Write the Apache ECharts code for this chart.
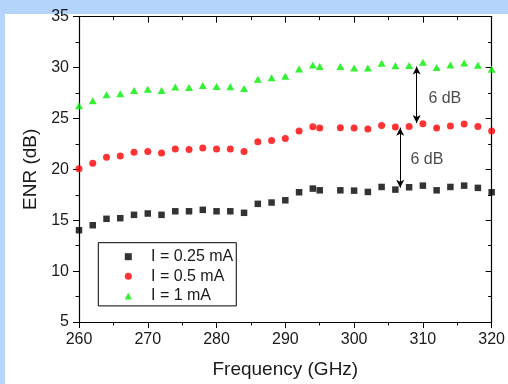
<!DOCTYPE html>
<html>
<head>
<meta charset="utf-8">
<script src="https://cdn.jsdelivr.net/npm/echarts@6/dist/echarts.min.js"></script>
<style>
  html, body { margin: 0; padding: 0; background: #b4d4fb; overflow: hidden; width: 508px; height: 384px; }
  #bg { position: absolute; left: 5px; top: 14px; right: 0; bottom: 0; background: #ffffff; }
  #chart { position: absolute; left: 0; top: 0; width: 508px; height: 384px; }
</style>
</head>
<body>
<div id="bg"></div>
<div id="chart"></div>
<script>
// ---- data ----
const freqs = [260,262,264,266,268,270,272,274,276,278,280,282,284,286,288,290,292,294,295,298,300,302,304,306,308,310,312,314,316,318,320];
const enr025 = [14.02,14.51,15.14,15.2,15.53,15.66,15.53,15.88,15.88,16.02,15.88,15.88,15.73,16.61,16.74,16.96,17.75,18.11,17.94,17.94,17.91,17.78,18.27,18.01,18.24,18.4,17.94,18.27,18.4,18.18,17.75];
const enr05 = [20.07,20.59,21.18,21.31,21.67,21.76,21.61,22.0,21.96,22.1,22.0,22.0,21.76,22.72,22.84,23.04,23.76,24.19,24.06,24.09,24.06,23.96,24.31,24.16,24.22,24.48,24.06,24.25,24.45,24.22,23.76];
const enr1 = [26.25,26.74,27.32,27.42,27.75,27.88,27.75,28.08,28.04,28.24,28.14,28.11,27.94,28.86,28.99,29.16,29.87,30.26,30.1,30.1,29.97,29.97,30.43,30.17,30.2,30.53,30.0,30.26,30.46,30.23,29.84];
const seriesNames = ['I = 0.25 mA', 'I = 0.5 mA', 'I = 1 mA'];
// annotation arrows (frequency, from ENR, to ENR) and texts
const arrowFreq = [309.1, 306.7];
const arrowFrom = [30.1, 24.1];
const arrowTo = [24.55, 18.2];
const noteText = ['6 dB', '6 dB'];
const noteFreq = [310.8, 308.2];
const noteEnr = [27.0, 21.0];
const xTitle = 'Frequency (GHz)';
const yTitle = 'ENR (dB)';

const pairs = (ys) => freqs.map((f, i) => [f, ys[i]]);
const FONT = 'Liberation Sans, Arial, sans-serif';
const TXT = '#1a1a1a';

const chart = echarts.init(document.getElementById('chart'), null, { renderer: 'canvas' });

const mainAxisCommon = {
  axisLine: { show: true, onZero: false, lineStyle: { color: '#000', width: 1.2 } },
  axisTick: { show: true, length: 6, lineStyle: { color: '#000', width: 1 } },
  minorTick: { show: true, splitNumber: 2, length: 3.5, lineStyle: { color: '#000', width: 1 } },
  splitLine: { show: false },
  axisLabel: { color: TXT, fontSize: 16, fontFamily: FONT, margin: 10 }
};
const mirrorAxisCommon = {
  axisLine: { show: true, onZero: false, lineStyle: { color: '#000', width: 1.2 } },
  axisTick: { show: true, inside: true, length: 6, lineStyle: { color: '#000', width: 1 } },
  minorTick: { show: true, splitNumber: 2, length: 3.5, lineStyle: { color: '#000', width: 1 } },
  splitLine: { show: false },
  axisLabel: { show: false }
};

const option = {
  animation: false,
  backgroundColor: 'transparent',
  grid: { left: 79, right: 16, top: 16.7, bottom: 61, containLabel: false },
  xAxis: [
    Object.assign({
      type: 'value', min: 260, max: 320, interval: 10, position: 'bottom',
      name: xTitle, nameLocation: 'middle', nameGap: 38,
      nameTextStyle: { color: TXT, fontSize: 19, fontFamily: FONT }
    }, mainAxisCommon),
    Object.assign({ type: 'value', min: 260, max: 320, interval: 10, position: 'top' }, mirrorAxisCommon)
  ],
  yAxis: [
    Object.assign({
      type: 'value', min: 5, max: 35, interval: 5, position: 'left',
      name: yTitle, nameLocation: 'middle', nameGap: 38,
      nameTextStyle: { color: TXT, fontSize: 19, fontFamily: FONT }
    }, mainAxisCommon),
    Object.assign({ type: 'value', min: 5, max: 35, interval: 5, position: 'right' }, mirrorAxisCommon)
  ],
  legend: {
    data: seriesNames,
    orient: 'vertical',
    left: 98.3, top: 242.7,
    padding: [5, 3, 1, 26.5],
    itemWidth: 7, itemHeight: 7, itemGap: 1.6,
    symbolKeepAspect: true,
    borderColor: '#000', borderWidth: 1,
    backgroundColor: '#fff',
    textStyle: { color: TXT, fontSize: 16, fontFamily: FONT, lineHeight: 18, padding: [0, 0, 0, 14.2] },
    selectedMode: false
  },
  series: [
    {
      name: seriesNames[0], type: 'scatter', data: pairs(enr025),
      symbol: 'rect', symbolSize: 6.5, clip: false,
      itemStyle: { color: '#000000' }
    },
    {
      name: seriesNames[1], type: 'scatter', data: pairs(enr05),
      symbol: 'circle', symbolSize: 7, clip: false,
      itemStyle: { color: '#ff0000' }
    },
    {
      name: seriesNames[2], type: 'scatter', data: pairs(enr1),
      symbol: 'triangle', symbolSize: [8, 7], clip: false,
      itemStyle: { color: '#00ee00' }
    },
    {
      name: 'notes', type: 'scatter', silent: true,
      data: noteFreq.map((f, i) => ({ value: [f, noteEnr[i]], name: noteText[i] })),
      symbolSize: 0,
      label: { show: true, position: 'right', distance: 0, formatter: '{b}', color: TXT, fontSize: 16, fontFamily: FONT },
      markLine: {
        silent: true,
        symbol: ['arrow', 'arrow'],
        symbolSize: [6, 8],
        label: { show: false },
        lineStyle: { color: '#000', width: 1, type: 'solid' },
        data: arrowFreq.map((f, i) => [{ coord: [f, arrowFrom[i]] }, { coord: [f, arrowTo[i]] }])
      }
    }
  ]
};
chart.setOption(option);
</script>
</body>
</html>
